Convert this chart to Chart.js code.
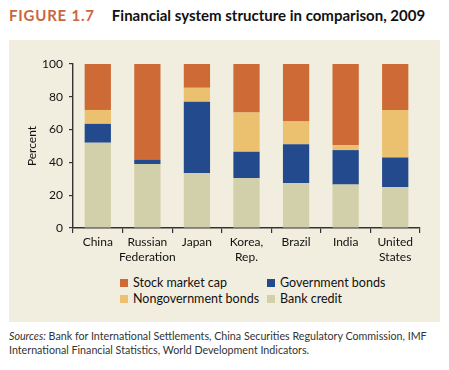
<!DOCTYPE html>
<html>
<head>
<meta charset="utf-8">
<script src="https://cdn.jsdelivr.net/npm/chart.js@4/dist/chart.umd.min.js"></script>
<style>
  body { margin: 0; background: #fff; width: 449px; height: 370px; position: relative; overflow: hidden; font-family: Lato, "Open Sans", sans-serif; }
  #title { position: absolute; left: 9px; top: 6px; font-size: 15px; font-weight: bold; white-space: nowrap; color: #111; }
  #title .fig { color: #c8673d; margin-right: 17px; letter-spacing: 0.8px; }
  #panel { position: absolute; left: 9px; top: 40px; width: 431px; height: 282px; background: #f2eedf; }
  #chartBox { position: absolute; left: 0; top: 0; width: 431px; height: 230px; }
  .leg { position: absolute; font-size: 12.5px; color: #111; white-space: nowrap; }
  .leg span.sw { display: inline-block; width: 8px; height: 8px; margin-right: 5px; vertical-align: 0px; }
  #sources { position: absolute; left: 9px; top: 329px; font-size: 10.7px; line-height: 14px; color: #333; white-space: nowrap; }
</style>
</head>
<body>
<div id="title"><span class="fig">FIGURE 1.7</span>Financial system structure in comparison, 2009</div>
<div id="panel">
  <div id="chartBox"><canvas id="chart"></canvas></div>
  <div id="legend"></div>
</div>
<div id="sources"><i>Sources:</i> Bank for International Settlements, China Securities Regulatory Commission, IMF<br>International Financial Statistics, World Development Indicators.</div>
<script>
// countries along the x axis
var countries = [['China'], ['Russian', 'Federation'], ['Japan'], ['Korea,', 'Rep.'], ['Brazil'], ['India'], ['United', 'States']];

// percent of financial system, stacked from the bottom up
var bankCredit = [52, 39, 33.5, 30.5, 27.5, 26.5, 25];
var governmentBonds = [11.5, 2.5, 43.5, 16, 23.5, 21, 18];
var nongovernmentBonds = [8.5, 0, 8.5, 24, 14, 3, 29];
var stockMarketCap = [28, 58.5, 14.5, 29.5, 35, 49.5, 28];

var yTicks = [0, 20, 40, 60, 80, 100];

var colors = {
    stock: '#cd6a35',
    nongov: '#ebc170',
    gov: '#234a8c',
    bank: '#d2cfab'
};

function createGraph() {
    var config = {
        type: 'bar',
        data: {
            labels: countries,
            datasets: [
                { label: 'Bank credit', data: bankCredit, backgroundColor: colors.bank },
                { label: 'Government bonds', data: governmentBonds, backgroundColor: colors.gov },
                { label: 'Nongovernment bonds', data: nongovernmentBonds, backgroundColor: colors.nongov },
                { label: 'Stock market cap', data: stockMarketCap, backgroundColor: colors.stock }
            ]
        },
        options: {
            responsive: true,
            maintainAspectRatio: false,
            animation: false,
            categoryPercentage: 1,
            barPercentage: 0.53,
            layout: { padding: { left: 0, right: 20, top: 24, bottom: 0 } },
            plugins: { legend: { display: false }, tooltip: { enabled: false } },
            scales: {
                x: {
                    stacked: true,
                    grid: { offset: true, drawOnChartArea: false, drawTicks: true, tickLength: 5, color: '#333', lineWidth: 1.2 },
                    border: { color: '#333', width: 1.4 },
                    ticks: { color: '#111', padding: 2, font: { family: 'Lato', size: 12, lineHeight: 1.25 }, maxRotation: 0, autoSkip: false },
                    afterFit: function (scale) { scale.height = 42; }
                },
                y: {
                    stacked: true,
                    min: 0,
                    max: 100,
                    afterBuildTicks: function (scale) {
                        scale.ticks = yTicks.map(function (v) { return { value: v }; });
                    },
                    grid: { drawOnChartArea: false, drawTicks: true, tickLength: 4, color: '#333', lineWidth: 1.2 },
                    border: { color: '#333', width: 1.4 },
                    ticks: { color: '#111', padding: 6, font: { family: 'Lato', size: 12 } },
                    title: { display: true, text: 'Percent', color: '#111', font: { family: 'Lato', size: 12 }, padding: { top: 16, bottom: 0 } },
                    afterFit: function (scale) { scale.width = 64; }
                }
            }
        }
    };

    var ctx = document.getElementById('chart').getContext('2d');
    window.myBar = new Chart(ctx, config);
}

// two-column legend like the printed figure
function createLegend() {
    var items = [
        { label: 'Stock market cap', color: colors.stock, x: 111, y: 235 },
        { label: 'Government bonds', color: colors.gov, x: 258, y: 235 },
        { label: 'Nongovernment bonds', color: colors.nongov, x: 111, y: 251 },
        { label: 'Bank credit', color: colors.bank, x: 258, y: 251 }
    ];
    var box = document.getElementById('legend');
    items.forEach(function (it) {
        var d = document.createElement('div');
        d.className = 'leg';
        d.style.left = it.x + 'px';
        d.style.top = it.y + 'px';
        d.innerHTML = '<span class="sw" style="background:' + it.color + '"></span>' + it.label;
        box.appendChild(d);
    });
}

createGraph();
createLegend();
</script>
</body>
</html>
